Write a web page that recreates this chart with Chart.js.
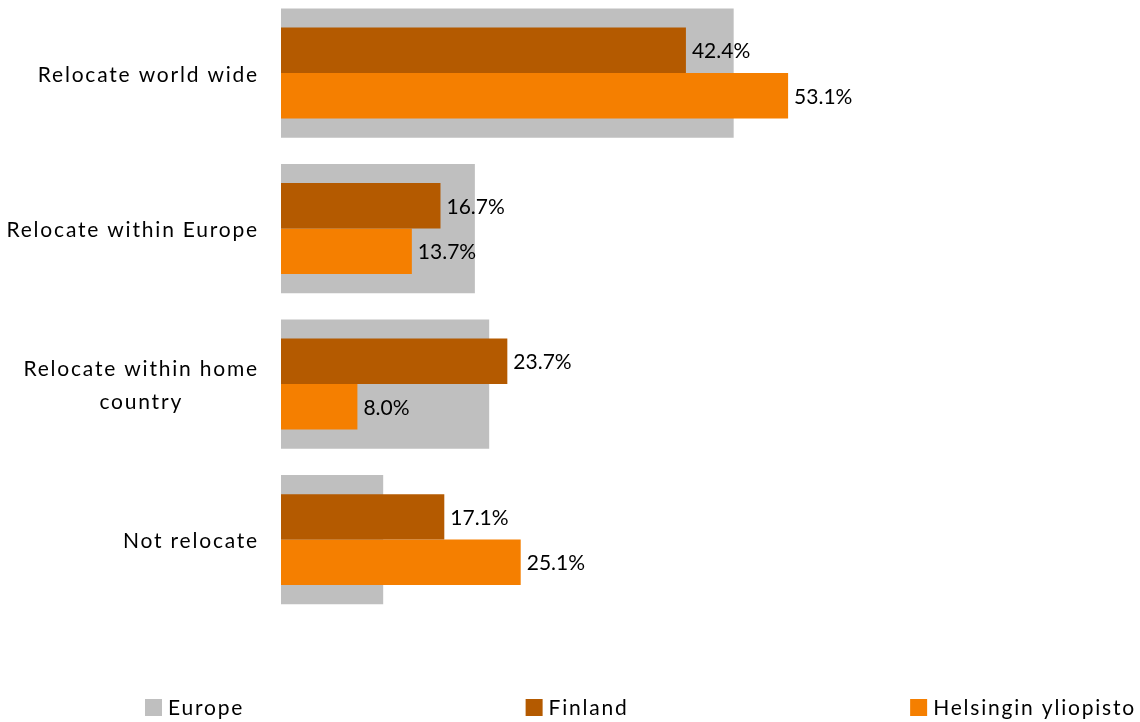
<!DOCTYPE html>
<html>
<head>
<meta charset="utf-8">
<script src="https://cdn.jsdelivr.net/npm/chart.js@4.4.1/dist/chart.umd.min.js"></script>
<style>
  html, body { margin: 0; padding: 0; background: #fff; }
</style>
</head>
<body>
<canvas id="myChart" width="1140" height="722"></canvas>
<script>
// answers per category, in percent
var categories = [['Relocate world wide'], ['Relocate within Europe'], ['Relocate within home', 'country'], ['Not relocate']];
var seriesNames = ['Europe', 'Finland', 'Helsingin yliopisto'];
var europe = [47.4, 20.3, 21.8, 10.7];
var finland = [42.4, 16.7, 23.7, 17.1];
var helsinki = [53.1, 13.7, 8.0, 25.1];
var colors = ['rgb(191, 191, 191)', 'rgb(180, 90, 0)', 'rgb(245, 127, 0)'];

var textFont = '21px Lato';
var spacing = '1.8px';

function points(values) {
  return values.map(function (v, i) { return {x: v, y: i}; });
}

// category names drawn right of the y axis, lines centred inside each block
var categoryLabels = {
  id: 'categoryLabels',
  afterDraw: function (chart) {
    var ctx = chart.ctx;
    var yScale = chart.scales.y;
    var right = chart.chartArea.left - 22;
    var lineHeight = 33;
    ctx.save();
    ctx.font = textFont;
    ctx.letterSpacing = spacing;
    ctx.fillStyle = '#000';
    ctx.textAlign = 'center';
    ctx.textBaseline = 'middle';
    categories.forEach(function (lines, i) {
      var w = Math.max.apply(null, lines.map(function (l) { return ctx.measureText(l).width; }));
      var cx = right - w / 2;
      var cy = yScale.getPixelForValue(i) + 2 - (lines.length - 1) * lineHeight / 2;
      lines.forEach(function (l, j) { ctx.fillText(l, cx, cy + j * lineHeight); });
    });
    ctx.restore();
  }
};

// value labels at the end of the Finland and Helsinki bars
var valueLabels = {
  id: 'valueLabels',
  afterDatasetsDraw: function (chart) {
    var ctx = chart.ctx;
    ctx.save();
    ctx.font = textFont;
    ctx.fillStyle = '#000';
    ctx.textAlign = 'left';
    ctx.textBaseline = 'middle';
    chart.data.datasets.forEach(function (ds, d) {
      if (!ds.showValues) return;
      chart.getDatasetMeta(d).data.forEach(function (bar, i) {
        ctx.fillText(ds.data[i].x.toFixed(1) + '%', bar.x + 6, bar.y + 1);
      });
    });
    ctx.restore();
  }
};

var bottomLegend = {
  id: 'bottomLegend',
  afterDraw: function (chart) {
    var ctx = chart.ctx;
    var box = 17, gapText = 6, left = 145, right = 1136, y = 699;
    ctx.save();
    ctx.font = textFont;
    ctx.letterSpacing = spacing;
    ctx.textAlign = 'left';
    ctx.textBaseline = 'middle';
    var widths = seriesNames.map(function (n) { return box + gapText + ctx.measureText(n).width; });
    var total = widths.reduce(function (a, b) { return a + b; }, 0);
    var gap = (right - left - total) / (seriesNames.length - 1);
    var x = left;
    seriesNames.forEach(function (n, i) {
      ctx.fillStyle = colors[i];
      ctx.fillRect(x, y, box, box);
      ctx.fillStyle = '#000';
      ctx.fillText(n, x + box + gapText, y + box / 2 + 1);
      x += widths[i] + gap;
    });
    ctx.restore();
  }
};

var ctx = document.getElementById('myChart').getContext('2d');
var myChart = new Chart(ctx, {
  type: 'bar',
  data: {
    datasets: [{
        label: seriesNames[0],
        data: points(europe),
        backgroundColor: colors[0],
        grouped: false,
        order: 1,
        barPercentage: 0.83,
        categoryPercentage: 1
      }, {
        label: seriesNames[1],
        data: points(finland),
        backgroundColor: colors[1],
        showValues: true,
        barPercentage: 1,
        categoryPercentage: 0.585
      }, {
        label: seriesNames[2],
        data: points(helsinki),
        backgroundColor: colors[2],
        showValues: true,
        barPercentage: 1,
        categoryPercentage: 0.585
      }
    ]
  },
  options: {
    indexAxis: 'y',
    responsive: false,
    animation: false,
    layout: {
      padding: {top: 0, left: 0, right: 18.6, bottom: 60}
    },
    plugins: {
      legend: {display: false},
      tooltip: {enabled: false}
    },
    scales: {
      x: {
        display: false,
        min: 0,
        max: 88
      },
      y: {
        type: 'linear',
        reverse: true,
        offset: false,
        min: -0.47,
        max: 3.787,
        afterBuildTicks: function (scale) {
          scale.ticks = categories.map(function (c, i) { return {value: i}; });
        },
        afterFit: function (scale) {
          scale.width = 281;
        },
        ticks: {display: false},
        grid: {display: false},
        border: {display: false}
      }
    }
  },
  plugins: [valueLabels, categoryLabels, bottomLegend]
});
</script>
</body>
</html>
